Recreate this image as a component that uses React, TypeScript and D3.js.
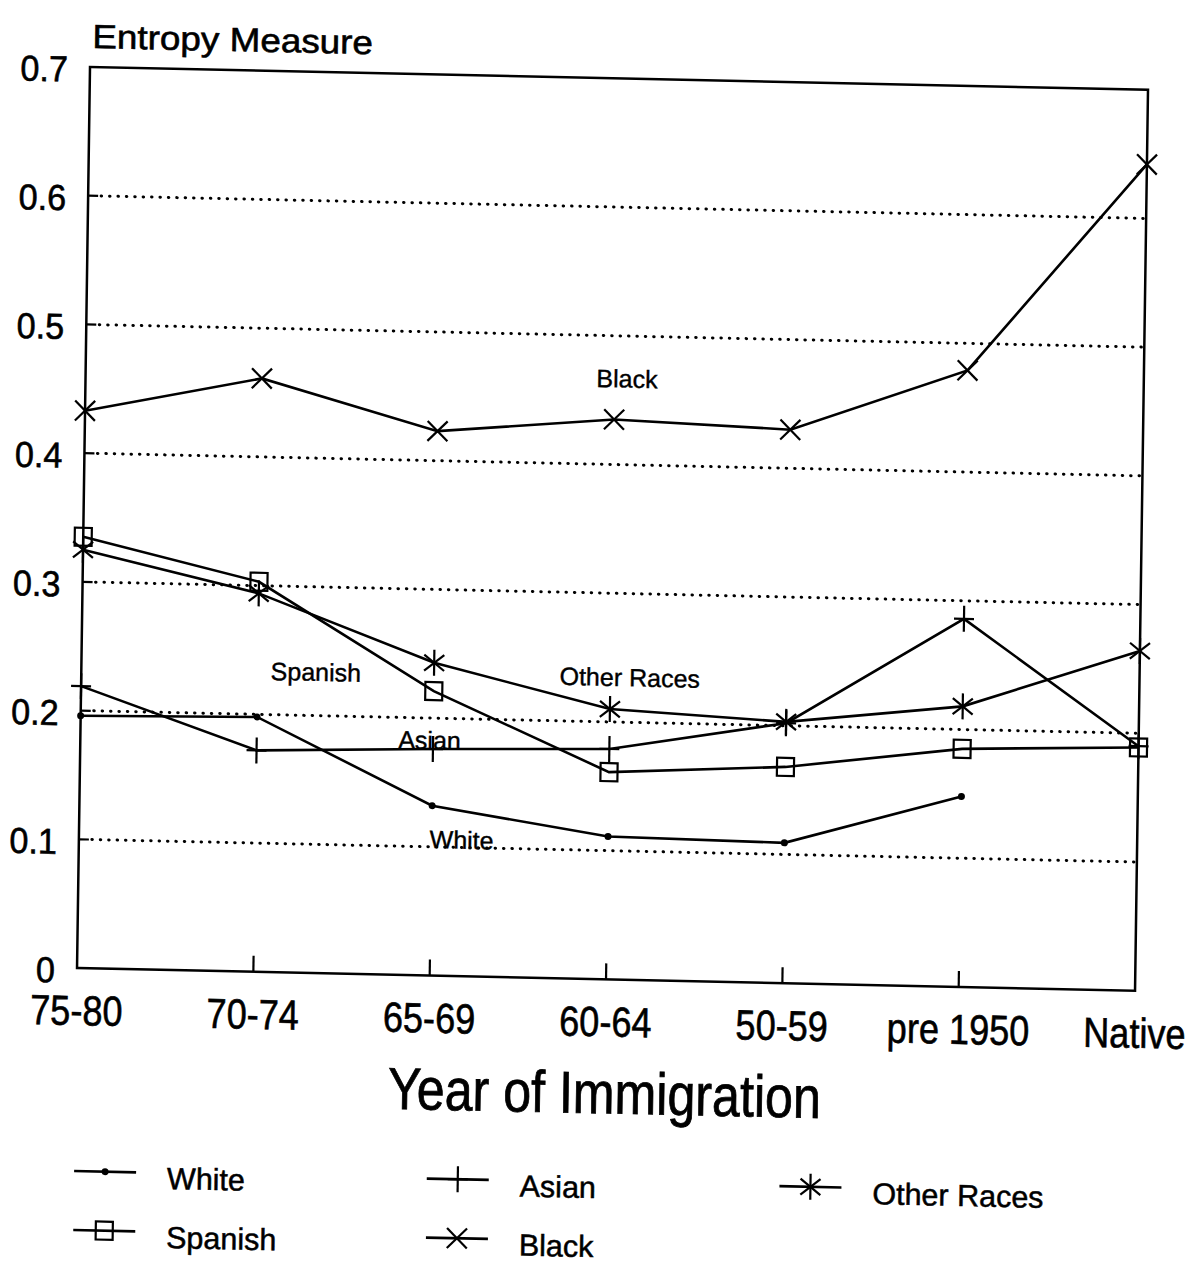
import React from "react";
import * as d3 from "d3";

// ---------- data ----------
const categories = ["75-80", "70-74", "65-69", "60-64", "50-59", "pre 1950", "Native"];
const whiteValues = [0.196, 0.198, 0.132, 0.111, 0.109, 0.148, null];
const asianValues = [0.219, 0.172, 0.176, 0.179, 0.202, 0.286, 0.19];
const otherRacesValues = [0.325, 0.294, 0.243, 0.21, 0.203, 0.218, 0.264];
const spanishValues = [0.335, 0.303, 0.221, 0.161, 0.168, 0.185, 0.189];
const blackValues = [0.433, 0.461, 0.423, 0.435, 0.43, 0.479, 0.642];
const yTicks = [0, 0.1, 0.2, 0.3, 0.4, 0.5, 0.6, 0.7];
const yTickLabels = ["0", "0.1", "0.2", "0.3", "0.4", "0.5", "0.6", "0.7"];
const gridValues = [0.1, 0.2, 0.3, 0.4, 0.5, 0.6];

const series = [
  { name: "White", values: whiteValues, marker: "dot" },
  { name: "Asian", values: asianValues, marker: "plus" },
  { name: "Other Races", values: otherRacesValues, marker: "asterisk" },
  { name: "Spanish", values: spanishValues, marker: "square" },
  { name: "Black", values: blackValues, marker: "x" },
];

// in-plot labels: position in (category index, value) space
const inPlotLabels = [
  { text: "Black", idx: 3.07, value: 0.46 },
  { text: "Spanish", idx: 1.33, value: 0.227 },
  { text: "Other Races", idx: 3.11, value: 0.228 },
  { text: "Asian", idx: 1.98, value: 0.176 },
  { text: "White", idx: 2.17, value: 0.099 },
];

// legend layout: series name, row, column (category index)
const legendItems = [
  { name: "White", row: 0, col: 0 },
  { name: "Asian", row: 0, col: 2 },
  { name: "Other Races", row: 0, col: 4 },
  { name: "Spanish", row: 1, col: 0 },
  { name: "Black", row: 1, col: 2 },
];

const W = 1058;
const H = 901;
const FONT = "'Liberation Sans', Arial, Helvetica, sans-serif";
const INK = { fill: "#000", stroke: "#000", strokeWidth: 0.6 };

function Marker({ type, x, y }: { type: string; x: number; y: number }) {
  const s = { stroke: "#000", strokeWidth: 2.2, fill: "none" };
  if (type === "dot") return <circle cx={x} cy={y} r={3.5} fill="#000" />;
  if (type === "square")
    return <rect x={x - 8.5} y={y - 9} width={17} height={18} {...s} />;
  if (type === "plus")
    return (
      <g {...s}>
        <line x1={x} y1={y - 13} x2={x} y2={y + 13} />
        <line x1={x - 10} y1={y} x2={x + 10} y2={y} />
      </g>
    );
  if (type === "x")
    return (
      <g {...s}>
        <line x1={x - 10} y1={y - 10} x2={x + 10} y2={y + 10} />
        <line x1={x - 10} y1={y + 10} x2={x + 10} y2={y - 10} />
      </g>
    );
  // asterisk
  return (
    <g {...s}>
      <line x1={x} y1={y - 13} x2={x} y2={y + 13} />
      <line x1={x - 10} y1={y - 8} x2={x + 10} y2={y + 8} />
      <line x1={x - 10} y1={y + 8} x2={x + 10} y2={y - 8} />
    </g>
  );
}

export default function App() {
  const x = d3.scalePoint<string>().domain(categories).range([0, W]);
  const xi = d3.scaleLinear().domain([0, categories.length - 1]).range([0, W]);
  const y = d3.scaleLinear().domain([0, 0.7]).range([H, 0]);

  const line = d3
    .line<{ c: string; v: number | null }>()
    .defined((d) => d.v != null)
    .x((d) => x(d.c) as number)
    .y((d) => y(d.v as number));

  const markerOf = (name: string) => series.find((s) => s.name === name)!.marker;

  return (
    <svg
      width={1194}
      height={1264}
      style={{ position: "absolute", left: 0, top: 0, background: "#fff" }}
      fontFamily={FONT}
    >
      <rect width={1194} height={1264} fill="#fff" />
      <g transform="matrix(1,0.0215,-0.0144,1,90,67)">
        {/* title */}
        <g transform={`translate(2,-19) scale(1.1,1)`}>
          <text fontSize={33.5} {...INK}>Entropy Measure</text>
        </g>

        {/* gridlines */}
        {gridValues.map((g) => (
          <g key={g}>
            <line
              x1={13}
              x2={W}
              y1={y(g)}
              y2={y(g)}
              stroke="#000"
              strokeWidth={3}
              strokeDasharray="0.5 7.9"
              strokeLinecap="round"
            />
            <line x1={0} x2={10} y1={y(g)} y2={y(g)} stroke="#000" strokeWidth={2.2} />
          </g>
        ))}

        {/* frame */}
        <rect x={0} y={0} width={W} height={H} fill="none" stroke="#000" strokeWidth={2.5} />

        {/* x ticks */}
        {categories.slice(1, -1).map((c) => (
          <line key={c} x1={x(c)} x2={x(c)} y1={H} y2={H - 16} stroke="#000" strokeWidth={2.2} />
        ))}

        {/* y tick labels */}
        {yTicks.map((t, i) => (
          <g key={t} transform={`translate(-22,${y(t) + 15}) scale(0.95,1)`}>
            <text textAnchor="end" fontSize={36} {...INK}>
              {yTickLabels[i]}
            </text>
          </g>
        ))}

        {/* x tick labels */}
        {categories.map((c) => (
          <g key={c} transform={`translate(${x(c)},${H + 57}) scale(0.86,1)`}>
            <text textAnchor="middle" fontSize={42} {...INK}>
              {c}
            </text>
          </g>
        ))}

        {/* x axis title */}
        <g transform={`translate(${W / 2},${H + 134}) scale(0.85,1)`}>
          <text textAnchor="middle" fontSize={59} {...INK} strokeWidth={0.8}>
            Year of Immigration
          </text>
        </g>

        {/* series */}
        {series.map((s) => {
          const pts = categories.map((c, i) => ({ c, v: s.values[i] }));
          return (
            <g key={s.name}>
              <path d={line(pts) || ""} fill="none" stroke="#000" strokeWidth={2.6} />
              {pts
                .filter((p) => p.v != null)
                .map((p) => (
                  <Marker key={p.c} type={s.marker} x={x(p.c) as number} y={y(p.v as number)} />
                ))}
            </g>
          );
        })}

        {/* in-plot labels */}
        {inPlotLabels.map((l) => (
          <text
            key={l.text}
            x={xi(l.idx)}
            y={y(l.value)}
            textAnchor="middle"
            fontSize={25}
            {...INK}
            strokeWidth={0.4}
          >
            {l.text}
          </text>
        ))}

        {/* legend */}
        {legendItems.map((it) => {
          const u0 = xi(it.col);
          const v0 = H + 203 + it.row * 59;
          return (
            <g key={it.name}>
              <line x1={u0} x2={u0 + 62} y1={v0} y2={v0} stroke="#000" strokeWidth={2.6} />
              <Marker type={markerOf(it.name)} x={u0 + 31} y={v0} />
              <text x={u0 + 93} y={v0 + 16} fontSize={30.5} {...INK} strokeWidth={0.5}>
                {it.name}
              </text>
            </g>
          );
        })}
      </g>
    </svg>
  );
}
